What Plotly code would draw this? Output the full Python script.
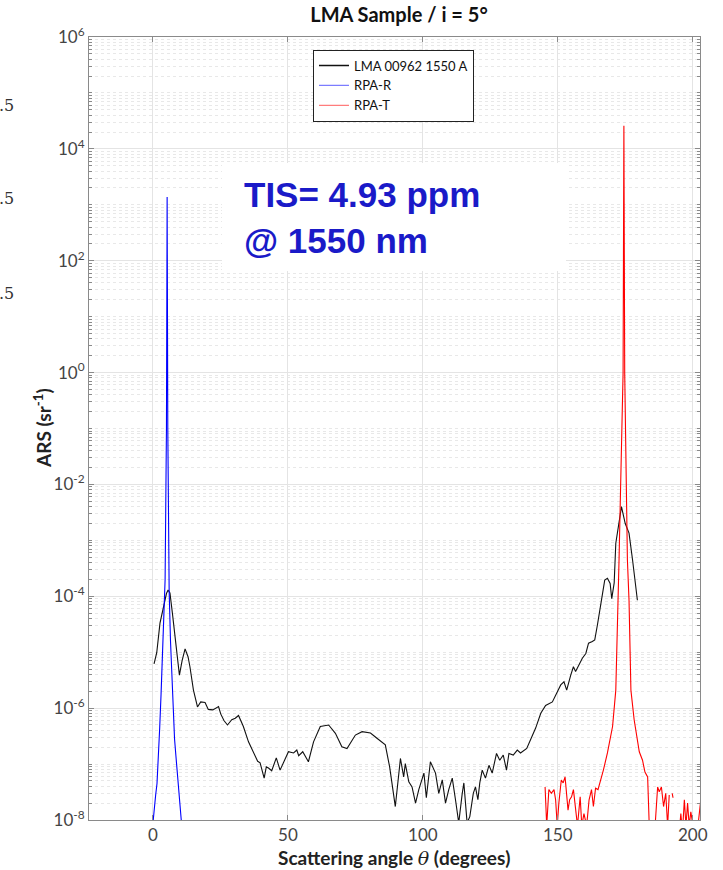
import plotly.graph_objects as go

# Measured angle-resolved scattering, LMA sample 00962 at 1550 nm (incidence 5 deg)
lma_angle = [0.4, 1.4, 2.6, 3.8, 5.0, 5.6, 6.3, 7.2, 8.2, 9.0, 9.8, 10.8, 11.9, 13.0, 13.7,
             15.0, 16.5, 17.7, 19.3, 20.5, 22.2, 24.3, 25.1, 26.3, 27.6, 29.2, 30.5, 31.7,
             33.5, 35.4, 37.9, 38.8, 39.7, 40.5, 41.2, 42.0, 42.8, 44.0, 45.7, 47.1, 48.6,
             50.2, 52.1, 53.3, 54.0, 55.5, 57.6, 59.5, 62.0, 65.1, 67.6, 70.0, 71.9, 73.5,
             75.0, 77.5, 80.6, 83.0, 86.1, 87.7, 89.8, 91.7, 92.9, 93.5, 94.8, 96.0, 97.3,
             98.5, 100.4, 101.3, 102.8, 104.7, 105.9, 107.2, 108.4, 109.6, 110.9, 112.1,
             113.3, 114.6, 115.2, 116.4, 117.4, 118.7, 119.5, 120.4, 121.1, 122.0, 123.2,
             124.5, 125.7, 127.3, 128.5, 129.8, 131.0, 131.9, 133.5, 135.0, 136.2, 138.5,
             139.9, 141.8, 143.7, 145.5, 148.0, 149.8, 151.1, 152.3, 153.3, 154.8, 155.8,
             156.6, 157.9, 159.1, 160.4, 161.4, 162.8, 163.7, 164.7, 165.9, 167.4, 168.4,
             169.4, 170.0, 170.9, 171.5, 173.6, 175.0, 176.4, 177.7, 179.5]
lma_ars = [6.2e-6, 9.8e-6, 3.3e-5, 6.5e-5, 1.12e-4, 1.29e-4, 1.15e-4, 5.0e-5, 1.86e-5, 7.9e-6,
           3.9e-6, 7.1e-6, 1.15e-5, 8.3e-6, 5.5e-6, 2.1e-6, 1.05e-6, 1.29e-6, 1.26e-6, 9.5e-7,
           9.3e-7, 1.07e-6, 7.9e-7, 6.0e-7, 5.0e-7, 6.2e-7, 6.6e-7, 7.4e-7, 4.7e-7, 2.5e-7,
           1.35e-7, 1.12e-7, 1.05e-7, 7.9e-8, 5.6e-8, 8.9e-8, 8.5e-8, 7.6e-8, 1.29e-7, 7.8e-8,
           1.12e-7, 1.66e-7, 1.58e-7, 1.78e-7, 1.41e-7, 1.66e-7, 1.10e-7, 2.5e-7, 4.7e-7,
           5.0e-7, 3.55e-7, 2.04e-7, 1.9e-7, 2.5e-7, 3.3e-7, 3.8e-7, 3.6e-7, 2.9e-7, 2.2e-7,
           8.9e-8, 1.74e-8, 1.26e-7, 5.9e-8, 1.02e-7, 4.8e-8, 3.9e-8, 2.0e-8, 3.5e-8, 6.9e-8,
           2.5e-8, 1.10e-7, 6.9e-8, 3.0e-8, 5.2e-8, 2.0e-8, 3.5e-8, 5.6e-8, 2.3e-8, 8.9e-9,
           3.0e-8, 4.6e-8, 8.9e-9, 1.15e-8, 3.0e-8, 3.9e-8, 2.3e-8, 4.6e-8, 7.8e-8, 5.6e-8,
           9.5e-8, 6.9e-8, 1.55e-7, 1.17e-7, 1.45e-7, 7.8e-8, 1.55e-7, 1.45e-7, 1.78e-7,
           1.58e-7, 1.9e-7, 2.7e-7, 4.4e-7, 8.1e-7, 1.12e-6, 1.29e-6, 1.95e-6, 2.6e-6, 2.95e-6,
           2.1e-6, 3.9e-6, 5.5e-6, 4.5e-6, 5.9e-6, 7.8e-6, 9.5e-6, 1.45e-5, 1.55e-5, 1.66e-5,
           3.1e-5, 7.4e-5, 1.95e-4, 2.1e-4, 1.7e-4, 9.1e-5, 1.74e-4, 8.9e-4, 4.0e-3, 2.0e-3,
           1.35e-3, 4.5e-4, 8.5e-5]

# Reference specular beam, reflection side
rpa_r_angle = [0.0, 0.5, 1.0, 1.5, 2.0, 2.5, 3.0, 3.5, 4.0, 4.5, 5.0, 5.25, 5.5, 6.0, 6.5,
               7.0, 7.5, 8.0, 8.5, 9.0, 9.5, 10.0, 10.5, 11.0]
rpa_r_ars = [8.9e-9, 1.9e-8, 2.8e-8, 4.5e-8, 1.26e-7, 4.5e-7, 1.78e-6, 7.1e-6, 2.5e-5, 2.0e-4,
             0.1, 1.38e3, 0.1, 1.26e-4, 1.58e-5, 3.55e-6, 7.1e-7, 2.8e-7, 1.41e-7, 7.1e-8,
             3.55e-8, 2.0e-8, 1.12e-8, 5.0e-9]

# Reference beam, transmission side
rpa_t_angle = [145.3, 145.9, 146.7, 147.6, 148.6, 149.2, 149.8, 150.4, 151.3, 152.0, 152.7,
               153.2, 153.8, 154.4, 155.1, 155.8, 156.4, 157.3, 158.3, 158.9, 159.7, 160.7,
               161.6, 162.5, 163.2, 164.0, 164.9, 165.9, 166.9, 168.4, 170.3, 171.5, 172.1,
               172.7, 174.2, 174.5, 174.8, 175.8, 176.4, 177.1, 178.3, 180.2, 181.4, 182.3,
               183.3, 183.9, 185.5, 187.0, 187.6, 188.4, 189.2, 190.0, 190.7, 191.3, 191.8,
               192.4, 192.7, 193.5, 195.0, 195.6, 196.2, 196.9, 197.5, 198.1, 198.7, 199.3,
               200.5, 201.5, 203.0, 203.5]
rpa_t_ars = [3.9e-8, 7.9e-9, 3.5e-8, 3.0e-8, 3.5e-8, 2.3e-8, 7.9e-9, 2.0e-8, 5.2e-8, 4.6e-8,
             5.9e-8, 3.0e-8, 1.5e-8, 2.3e-8, 2.6e-8, 3.5e-8, 1.74e-8, 7.9e-9, 2.6e-8, 7.9e-9,
             1.3e-8, 7.9e-9, 2.3e-8, 3.5e-8, 1.74e-8, 3.7e-8, 3.5e-8, 5.2e-8, 7.8e-8, 1.58e-7,
             4.7e-7, 2.1e-6, 2.9e-5, 4.5e-4, 1.0, 2.6e4, 1.0, 4.5e-4, 8.5e-5, 2.1e-6, 6.2e-7,
             1.66e-7, 1.17e-7, 7.2e-8, 5.9e-8, 7.9e-9, 3.0e-9, 3.9e-8, 3.2e-8, 3.9e-8, 1.74e-8,
             3.0e-8, 7.9e-9, 2.8e-8, None, 3.0e-8, 2.5e-8, None, 6.0e-9, 1.3e-8, 6.0e-9,
             2.3e-8, 7.9e-9, 2.0e-8, 7.9e-9, 1.4e-8, 6.0e-9, 5.0e-9, 2.3e-8, 4.0e-8]

series_names = ["LMA 00962 1550 A", "RPA-R", "RPA-T"]
decade_ticks = [1e-8, 1e-6, 1e-4, 1e-2, 1e0, 1e2, 1e4, 1e6]
decade_labels = ["10<sup>-8</sup>", "10<sup>-6</sup>", "10<sup>-4</sup>", "10<sup>-2</sup>",
                 "10<sup>0</sup>", "10<sup>2</sup>", "10<sup>4</sup>", "10<sup>6</sup>"]
angle_ticks = [0, 50, 100, 150, 200]

SANS = "Lato, Open Sans, sans-serif"
TICK_FONT = dict(family=SANS, size=17, color="#444444")
AXIS_GRAY = "#8a8a8a"

fig = go.Figure()
fig.add_trace(go.Scatter(x=lma_angle, y=lma_ars, mode="lines", showlegend=False,
                         line=dict(color="#111111", width=1.1)))
fig.add_trace(go.Scatter(x=rpa_r_angle, y=rpa_r_ars, mode="lines", showlegend=False,
                         line=dict(color="#0000ff", width=1.1)))
fig.add_trace(go.Scatter(x=rpa_t_angle, y=rpa_t_ars, mode="lines", showlegend=False,
                         connectgaps=False, line=dict(color="#ff0000", width=1.1)))

# legend keys
for name, col in zip(series_names, ["#111111", "#7c7cff", "#ff7c7c"]):
    fig.add_trace(go.Scatter(x=[None], y=[None], mode="lines", name=name,
                             line=dict(color=col, width=1.3)))

fig.update_layout(
    width=723, height=870,
    margin=dict(l=89, r=23, t=37, b=50),
    paper_bgcolor="white", plot_bgcolor="white",
    title=dict(text="<b>LMA Sample / i = 5°</b>", x=(399 - 89) / 611, xref="paper",
               y=1 - 15 / 870, yanchor="middle", xanchor="center",
               font=dict(family=SANS, size=20, color="#111111")),
    legend=dict(x=0.3666, y=0.984, xanchor="left", yanchor="top", bgcolor="white",
                bordercolor="#222222", borderwidth=1, tracegroupgap=0,
                font=dict(family=SANS, size=13, color="#111111")),
    showlegend=True,
)

fig.update_xaxes(
    range=[-23.7, 202.7], tickvals=angle_ticks, ticks="inside", ticklen=5,
    tickcolor=AXIS_GRAY, showline=True, linecolor=AXIS_GRAY, linewidth=1, mirror="ticks",
    showgrid=True, gridcolor="#e4e4e4", gridwidth=1, zeroline=False,
    tickfont=TICK_FONT,
)
fig.update_yaxes(
    type="log", range=[-8, 6], tickvals=decade_ticks, ticktext=decade_labels,
    ticks="inside", ticklen=5, tickcolor=AXIS_GRAY, showline=True, linecolor=AXIS_GRAY,
    linewidth=1, mirror="ticks", showgrid=True, gridcolor="#e4e4e4", gridwidth=1,
    zeroline=False, tickfont=TICK_FONT,
    minor=dict(dtick="D1", ticks="inside", ticklen=3, tickcolor=AXIS_GRAY,
               showgrid=True, gridcolor="#e8e8e8", griddash="dot", gridwidth=1),
)

# white panel behind the TIS note
fig.add_shape(type="rect", xref="paper", yref="paper",
              x0=(222 - 89) / 611, x1=(566 - 89) / 611,
              y0=(820 - 271) / 783, y1=(820 - 163) / 783,
              fillcolor="white", line=dict(width=0), layer="above")
fig.add_annotation(xref="paper", yref="paper", x=(242 - 89) / 611, y=(820 - 217) / 783,
                   xanchor="left", yanchor="middle", align="left", showarrow=False,
                   text="<b>TIS= 4.93 ppm<br>@ 1550 nm</b>",
                   font=dict(family="Liberation Sans, Arial, sans-serif", size=35,
                             color="#1a1ac8"))

# axis titles
fig.add_annotation(xref="paper", yref="paper", x=(42 - 89) / 611, y=(820 - 428) / 783,
                   xanchor="center", yanchor="middle", textangle=-90, showarrow=False,
                   text="<b>ARS (sr<sup>-1</sup>)</b>",
                   font=dict(family=SANS, size=19, color="#222222"))
fig.add_annotation(xref="paper", yref="paper", x=(394 - 89) / 611, y=(820 - 857) / 783,
                   xanchor="center", yanchor="middle", showarrow=False,
                   text="<b>Scattering angle </b><span style='font-family:DejaVu Serif'><i>θ</i></span><b> (degrees)</b>",
                   font=dict(family=SANS, size=19, color="#222222"))

# clipped labels at the left edge
for py in [106, 199, 293]:
    fig.add_annotation(xref="paper", yref="paper", x=(-3 - 89) / 611, y=(820 - py) / 783,
                       xanchor="left", yanchor="middle", showarrow=False, text=".5",
                       font=dict(family="DejaVu Serif, Liberation Serif, serif", size=16,
                                 color="#333333"))

fig.write_html("out.html")
